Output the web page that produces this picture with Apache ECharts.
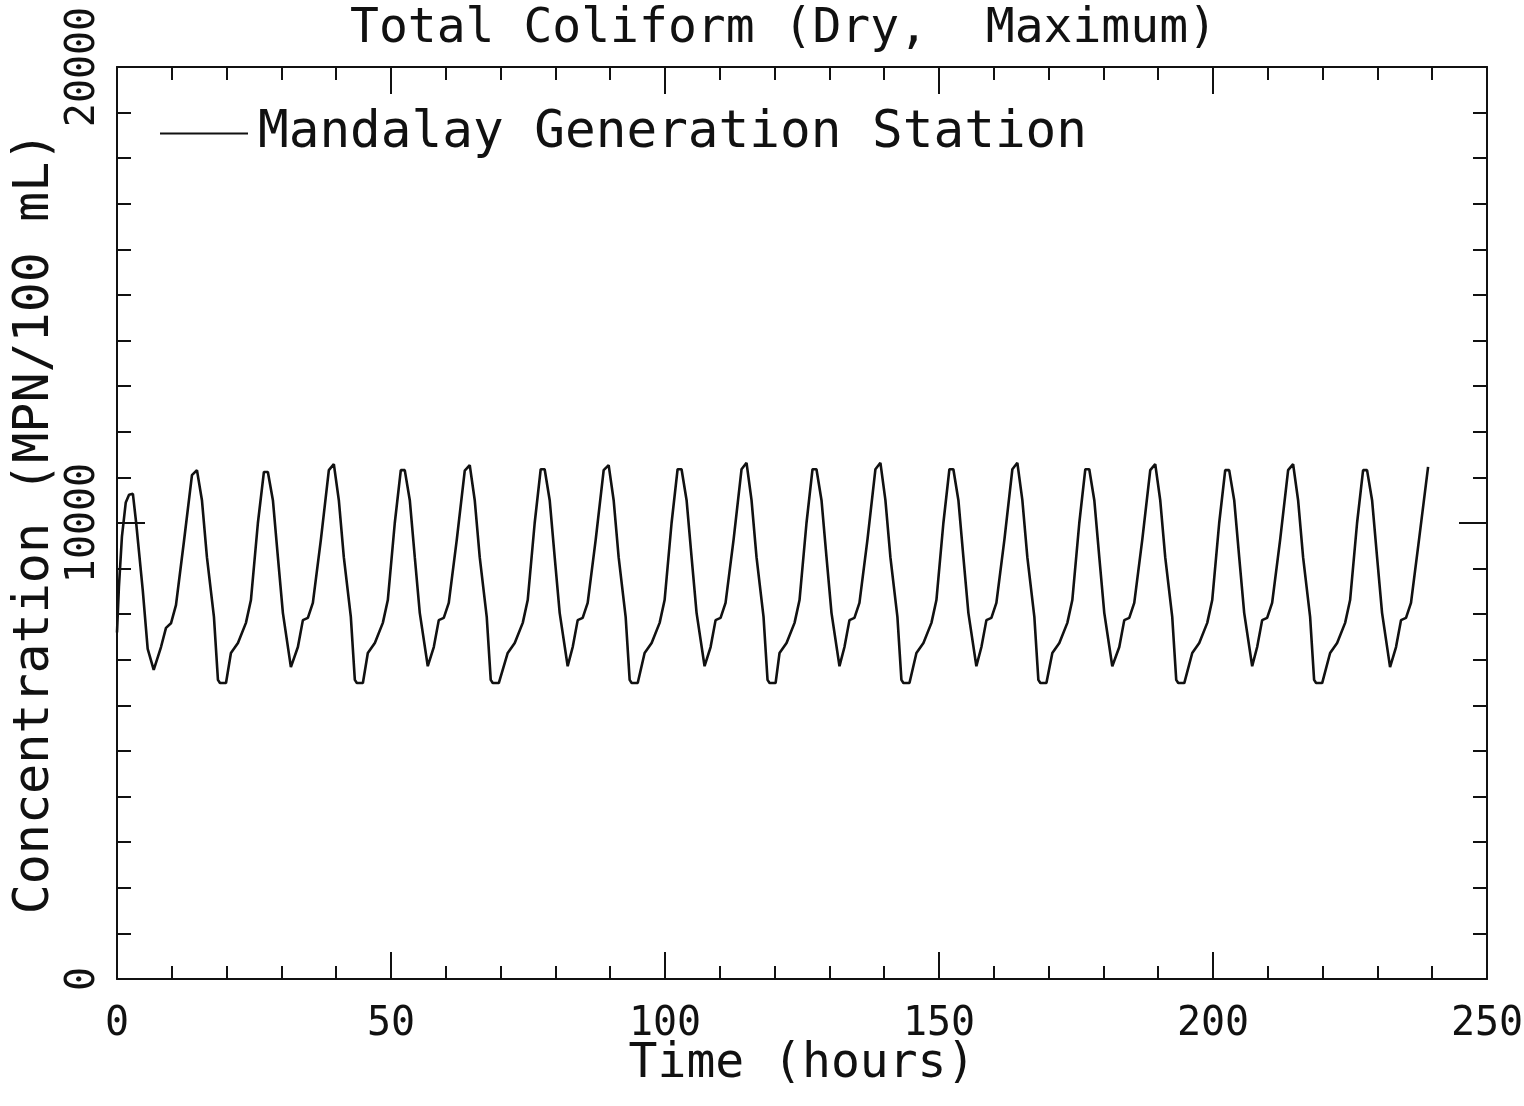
<!DOCTYPE html>
<html>
<head>
<meta charset="utf-8">
<script src="https://cdn.jsdelivr.net/npm/echarts@6/dist/echarts.min.js"></script>
<style>
html,body{margin:0;padding:0;background:#fff;}
#chart{width:1524px;height:1106px;}
</style>
</head>
<body>
<div id="chart"></div>
<script>
// Time (hours) and Total Coliform concentration (MPN/100 mL)
const hours = [
  0.00, 0.35, 0.90, 1.60, 2.20, 2.90, 3.50, 4.70, 5.60, 6.70,
  8.03, 8.94, 9.85, 10.76, 12.22, 13.68, 14.59, 15.50, 16.41, 17.69, 18.42, 18.79, 19.89,
  20.79, 22.07, 23.53, 24.44, 25.71, 26.81, 27.53, 28.45, 29.36, 30.27, 31.73,
  33.01, 33.92, 34.83, 35.74, 37.20, 38.66, 39.57, 40.48, 41.39, 42.67, 43.40, 43.77, 44.87,
  45.77, 47.05, 48.51, 49.42, 50.69, 51.79, 52.51, 53.43, 54.34, 55.25, 56.71,
  57.81, 58.72, 59.63, 60.54, 62.00, 63.46, 64.37, 65.28, 66.19, 67.47, 68.20, 68.57, 69.67,
  71.30, 72.58, 74.04, 74.95, 76.22, 77.32, 78.04, 78.96, 79.87, 80.78, 82.24,
  83.16, 84.07, 84.98, 85.89, 87.35, 88.81, 89.72, 90.63, 91.54, 92.82, 93.55, 93.92, 95.02,
  96.28, 97.56, 99.02, 99.93, 101.20, 102.30, 103.02, 103.94, 104.85, 105.76, 107.22,
  108.32, 109.23, 110.14, 111.05, 112.51, 113.97, 114.88, 115.79, 116.70, 117.98, 118.71, 119.08, 120.18,
  120.90, 122.18, 123.64, 124.55, 125.82, 126.92, 127.64, 128.56, 129.47, 130.38, 131.84,
  132.75, 133.66, 134.57, 135.48, 136.94, 138.40, 139.31, 140.22, 141.13, 142.41, 143.14, 143.51, 144.61,
  145.88, 147.16, 148.62, 149.53, 150.80, 151.90, 152.62, 153.54, 154.45, 155.36, 156.82,
  157.74, 158.65, 159.56, 160.47, 161.93, 163.39, 164.30, 165.21, 166.12, 167.40, 168.13, 168.50, 169.60,
  170.68, 171.96, 173.42, 174.33, 175.60, 176.70, 177.42, 178.34, 179.25, 180.16, 181.62,
  182.90, 183.81, 184.72, 185.63, 187.09, 188.55, 189.46, 190.37, 191.28, 192.56, 193.29, 193.66, 194.76,
  196.21, 197.49, 198.95, 199.86, 201.13, 202.23, 202.95, 203.87, 204.78, 205.69, 207.15,
  208.06, 208.97, 209.88, 210.79, 212.25, 213.71, 214.62, 215.53, 216.44, 217.72, 218.45, 218.82, 219.92,
  221.37, 222.65, 224.11, 225.02, 226.29, 227.39, 228.11, 229.03, 229.94, 230.85, 232.31,
  233.40, 234.31, 235.22, 236.13, 237.59, 239.25
];
const concentration = [
  7600, 8600, 9700, 10450, 10620, 10640, 10000, 8530, 7240, 6780,
  7280, 7700, 7800, 8200, 9600, 11050, 11160, 10500, 9250, 7940, 6560, 6490, 6490,
  7150, 7370, 7810, 8310, 10000, 11120, 11120, 10500, 9250, 8030, 6840,
  7280, 7870, 7920, 8250, 9630, 11160, 11290, 10500, 9250, 7940, 6560, 6490, 6490,
  7150, 7370, 7810, 8310, 10000, 11160, 11160, 10500, 9250, 8030, 6860,
  7280, 7870, 7920, 8250, 9630, 11150, 11270, 10500, 9250, 7940, 6560, 6490, 6490,
  7150, 7370, 7810, 8310, 10000, 11180, 11180, 10500, 9250, 8030, 6860,
  7280, 7870, 7920, 8250, 9630, 11160, 11270, 10500, 9250, 7940, 6560, 6490, 6490,
  7150, 7370, 7810, 8310, 10000, 11180, 11180, 10500, 9250, 8030, 6860,
  7280, 7870, 7920, 8250, 9630, 11180, 11320, 10500, 9250, 7940, 6560, 6490, 6490,
  7150, 7370, 7810, 8310, 10000, 11180, 11180, 10500, 9250, 8030, 6860,
  7280, 7870, 7920, 8250, 9630, 11180, 11320, 10500, 9250, 7940, 6560, 6490, 6490,
  7150, 7370, 7810, 8310, 10000, 11180, 11180, 10500, 9250, 8030, 6860,
  7280, 7870, 7920, 8250, 9630, 11180, 11320, 10500, 9250, 7940, 6560, 6490, 6490,
  7150, 7370, 7810, 8310, 10000, 11180, 11180, 10500, 9250, 8030, 6860,
  7280, 7870, 7920, 8250, 9630, 11160, 11290, 10500, 9250, 7940, 6560, 6490, 6490,
  7150, 7370, 7810, 8310, 10000, 11160, 11160, 10500, 9250, 8030, 6860,
  7280, 7870, 7920, 8250, 9630, 11160, 11290, 10500, 9250, 7940, 6560, 6490, 6490,
  7150, 7370, 7810, 8310, 10000, 11160, 11160, 10500, 9250, 8030, 6840,
  7280, 7870, 7920, 8250, 9630, 11230
];
const xTicks = [0, 50, 100, 150, 200, 250];
const yTicks = [0, 10000, 20000];
const titleText = 'Total Coliform (Dry,  Maximum)';
const seriesName = 'Mandalay Generation Station';
const xName = 'Time (hours)';
const yName = 'Concentration (MPN/100 mL)';

const FONT = '"DejaVu Sans Mono", "Liberation Mono", monospace';
const INK = '#111';
const points = hours.map((h, i) => [h, concentration[i]]);

const chart = echarts.init(document.getElementById('chart'), null, {renderer: 'canvas'});

function xAxisCfg(pos, showLabel) {
  return {
    type: 'value', position: pos, min: xTicks[0], max: xTicks[xTicks.length - 1],
    interval: xTicks[1] - xTicks[0],
    name: showLabel ? xName : '', nameLocation: 'middle', nameGap: 62, nameMoveOverlap: false,
    nameTextStyle: {fontFamily: FONT, fontSize: 48, color: INK},
    axisLine: {show: true, onZero: false, lineStyle: {color: INK, width: 2}},
    axisTick: {show: true, inside: true, length: 27, lineStyle: {color: INK, width: 2}},
    minorTick: {show: true, splitNumber: 5, length: 13, lineStyle: {color: INK, width: 2}},
    axisLabel: {show: showLabel, fontFamily: FONT, fontSize: 40, color: INK, margin: 26,
      formatter: v => String(v)},
    splitLine: {show: false}, minorSplitLine: {show: false}
  };
}
function yAxisCfg(pos, showLabel) {
  return {
    type: 'value', position: pos, min: yTicks[0], max: yTicks[yTicks.length - 1],
    interval: yTicks[1] - yTicks[0],
    name: showLabel ? yName : '', nameLocation: 'middle', nameGap: 57, nameRotate: 90,
    nameMoveOverlap: false,
    nameTextStyle: {fontFamily: FONT, fontSize: 50, color: INK},
    axisLine: {show: true, onZero: false, lineStyle: {color: INK, width: 2}},
    axisTick: {show: true, inside: true, length: 28, lineStyle: {color: INK, width: 2}},
    minorTick: {show: true, splitNumber: 10, length: 14, lineStyle: {color: INK, width: 2}},
    axisLabel: {show: showLabel, rotate: 90, fontFamily: FONT, fontSize: 40, color: INK, margin: 13,
      formatter: v => String(v)},
    splitLine: {show: false}, minorSplitLine: {show: false}
  };
}

chart.setOption({
  animation: false,
  backgroundColor: '#fff',
  title: {
    text: titleText, left: 350, top: 6, padding: 0,
    textStyle: {fontFamily: FONT, fontSize: 48, fontWeight: 'normal', color: INK}
  },
  legend: {
    data: [seriesName], left: 160, top: 108, padding: 0, icon: 'rect',
    itemWidth: 88, itemHeight: 2,
    textStyle: {fontFamily: FONT, fontSize: 51, color: INK, padding: [0, 0, 0, 5]}
  },
  grid: {left: 117, right: 37, top: 67, bottom: 127, containLabel: false, outerBoundsMode: 'none'},
  xAxis: [xAxisCfg('bottom', true), xAxisCfg('top', false)],
  yAxis: [yAxisCfg('left', true), yAxisCfg('right', false)],
  series: [{
    name: seriesName, type: 'line', data: points, xAxisIndex: 0, yAxisIndex: 0,
    symbol: 'none', smooth: false,
    lineStyle: {color: INK, width: 2.6},
    itemStyle: {color: INK}
  }]
});
</script>
</body>
</html>
